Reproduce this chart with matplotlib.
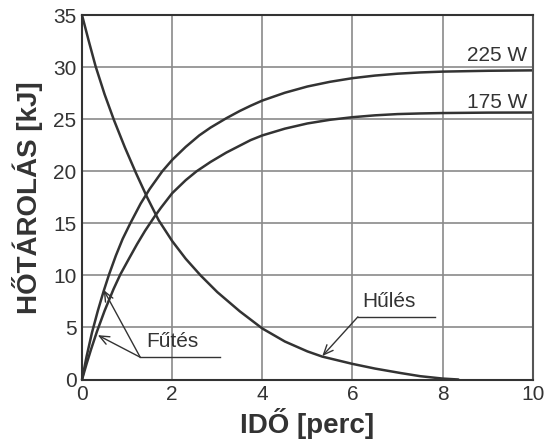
import matplotlib
matplotlib.use("Agg")
import matplotlib.pyplot as plt

plt.rcParams['font.family'] = ['Liberation Sans', 'DejaVu Sans']

# Heat stored during heating at 225 W
heat225_t = [0, 0.1, 0.22, 0.35, 0.48, 0.6, 0.75, 0.9, 1.07, 1.3, 1.5, 1.78, 2.0,
             2.3, 2.6, 2.85, 3.2, 3.5, 3.74, 4.0, 4.5, 5.0, 5.5, 6.0, 6.5, 7.0,
             7.5, 8.0, 9.0, 10.0]
heat225_q = [0, 2.2, 4.5, 6.6, 8.5, 10.1, 11.9, 13.5, 15.0, 16.9, 18.3, 20.0, 21.1,
             22.35, 23.45, 24.2, 25.1, 25.8, 26.3, 26.8, 27.55, 28.15, 28.6, 28.95,
             29.2, 29.38, 29.5, 29.58, 29.66, 29.7]

# Heat stored during heating at 175 W
heat175_t = [0, 0.1, 0.2, 0.33, 0.5, 0.7, 0.85, 1.04, 1.22, 1.4, 1.6, 1.75, 2.0,
             2.3, 2.54, 2.85, 3.2, 3.74, 4.0, 4.5, 5.0, 5.5, 6.0, 6.5, 7.0, 7.5,
             8.0, 9.0, 10.0]
heat175_q = [0, 1.5, 2.9, 4.6, 6.6, 8.7, 10.1, 11.6, 13.0, 14.3, 15.6, 16.5, 17.9,
             19.15, 20.0, 20.9, 21.8, 23.0, 23.45, 24.1, 24.6, 24.95, 25.2, 25.38,
             25.5, 25.56, 25.6, 25.64, 25.65]

# Heat remaining during cooling
cool_t = [0, 0.15, 0.3, 0.5, 0.71, 0.95, 1.2, 1.45, 1.7, 2.0, 2.3, 2.63, 3.0, 3.5,
          4.0, 4.5, 5.0, 5.33, 6.0, 6.5, 7.07, 7.5, 8.0, 8.35]
cool_q = [35, 32.5, 30.1, 27.4, 24.9, 22.3, 19.8, 17.45, 15.3, 13.3, 11.6, 10.0,
          8.4, 6.55, 4.9, 3.65, 2.7, 2.2, 1.5, 1.05, 0.62, 0.32, 0.09, 0.0]

x_ticks = [0, 2, 4, 6, 8, 10]
y_ticks = [0, 5, 10, 15, 20, 25, 30, 35]

ink = '#333333'
grid_c = '#8a8a8a'

fig = plt.figure(figsize=(5.47, 4.47), dpi=100)
ax = fig.add_axes([0.150, 0.151, 0.824, 0.815])

ax.set_xlim(0, 10)
ax.set_ylim(0, 35)
ax.set_xticks(x_ticks)
ax.set_yticks(y_ticks)
ax.tick_params(length=0, labelsize=15, labelcolor=ink, pad=4)
ax.grid(True, color=grid_c, linewidth=1.2)
ax.set_axisbelow(True)
for s in ax.spines.values():
    s.set_color(ink)
    s.set_linewidth(1.5)
ax.spines['right'].set_color('#555555')

lw = 1.8
ax.plot(heat225_t, heat225_q, color=ink, lw=lw, solid_capstyle='round', clip_on=False)
ax.plot(heat175_t, heat175_q, color=ink, lw=lw, solid_capstyle='round', clip_on=False)
ax.plot(cool_t, cool_q, color=ink, lw=lw, solid_capstyle='round', clip_on=False)

ax.set_xlabel('IDŐ [perc]', fontsize=20, fontweight='bold', color=ink, labelpad=3)
ax.set_ylabel('HŐTÁROLÁS [kJ]', fontsize=20, fontweight='bold', color=ink, labelpad=7)

# Curve labels
ax.text(9.87, 31.1, '225 W', fontsize=15, color=ink, ha='right', va='center')
ax.text(9.87, 26.6, '175 W', fontsize=15, color=ink, ha='right', va='center')

arrow_kw = dict(arrowstyle='->,head_length=0.7,head_width=0.3', color=ink, lw=1.0,
                shrinkA=0, shrinkB=0)

# Heating callout
ax.text(2.01, 3.63, 'Fűtés', fontsize=15, color=ink, ha='center', va='center')
ax.plot([1.29, 3.07], [2.14, 2.14], color=ink, lw=1.0)
ax.annotate('', xy=(0.48, 8.6), xytext=(1.29, 2.14), arrowprops=arrow_kw)
ax.annotate('', xy=(0.35, 4.26), xytext=(1.29, 2.14), arrowprops=arrow_kw)

# Cooling callout
ax.text(6.81, 7.48, 'Hűlés', fontsize=15, color=ink, ha='center', va='center')
ax.plot([6.12, 7.83], [6.02, 6.02], color=ink, lw=1.0)
ax.annotate('', xy=(5.33, 2.25), xytext=(6.12, 6.02), arrowprops=arrow_kw)

fig.savefig('out.png', dpi=100)
